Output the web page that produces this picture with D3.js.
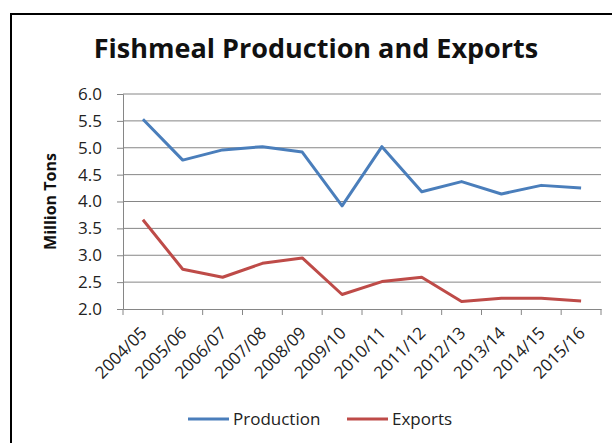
<!DOCTYPE html>
<html>
<head>
<meta charset="utf-8">
<script src="https://cdn.jsdelivr.net/npm/d3@7"></script>
<style>
  body { margin: 0; background: #fff; }
  svg { display: block; font-family: "Open Sans", sans-serif; }
</style>
</head>
<body>
<svg id="chart"></svg>
<script>
const seasons = ["2004/05", "2005/06", "2006/07", "2007/08", "2008/09", "2009/10",
  "2010/11", "2011/12", "2012/13", "2013/14", "2014/15", "2015/16"];
const production = [5.53, 4.77, 4.96, 5.02, 4.92, 3.92, 5.02, 4.18, 4.37, 4.14, 4.30, 4.25];
const exportsVals = [3.66, 2.74, 2.59, 2.85, 2.95, 2.27, 2.51, 2.59, 2.14, 2.20, 2.20, 2.15];
const yTicks = [2.0, 2.5, 3.0, 3.5, 4.0, 4.5, 5.0, 5.5, 6.0];

const series = [
  { name: "Production", values: production, color: "#4A7EBB" },
  { name: "Exports", values: exportsVals, color: "#BE4B48" }
];

const width = 612, height = 443;
const margin = { top: 94, right: 11, bottom: 134, left: 123 };

const svg = d3.select("#chart")
  .attr("width", width)
  .attr("height", height);

// frame (left + top only visible)
svg.append("path")
  .attr("d", `M11,${height} V14 H${width}`)
  .attr("fill", "none")
  .attr("stroke", "#000")
  .attr("stroke-width", 2);

const x = d3.scaleBand()
  .domain(seasons)
  .range([margin.left, width - margin.right]);

const y = d3.scaleLinear()
  .domain([2, 6])
  .range([height - margin.bottom, margin.top]);

// gridlines
svg.append("g")
  .selectAll("line")
  .data(yTicks.slice(1))
  .enter()
  .append("line")
  .attr("x1", margin.left)
  .attr("x2", width - margin.right)
  .attr("y1", d => y(d))
  .attr("y2", d => y(d))
  .attr("stroke", "#868686")
  .attr("stroke-width", 1);

// y axis
const yAxis = svg.append("g")
  .attr("transform", `translate(${margin.left},0)`)
  .call(d3.axisLeft(y).tickValues(yTicks).tickFormat(d3.format(".1f")).tickSize(6).tickPadding(15));
yAxis.select(".domain").attr("stroke", "#868686");
yAxis.selectAll(".tick line").attr("stroke", "#868686");
yAxis.selectAll("text")
  .style("font-size", "17px")
  .style("font-family", "'Open Sans', sans-serif")
  .attr("fill", "#222");

// x axis
const xAxis = svg.append("g")
  .attr("transform", `translate(0,${height - margin.bottom})`)
  .call(d3.axisBottom(x).tickSize(0).tickFormat(""));
xAxis.select(".domain").attr("stroke", "#868686");

svg.append("g")
  .selectAll("line")
  .data(seasons.concat(["end"]))
  .enter()
  .append("line")
  .attr("x1", (d, i) => margin.left + i * x.step())
  .attr("x2", (d, i) => margin.left + i * x.step())
  .attr("y1", height - margin.bottom)
  .attr("y2", height - margin.bottom + 6)
  .attr("stroke", "#868686");

svg.append("g")
  .selectAll("text")
  .data(seasons)
  .enter()
  .append("text")
  .attr("transform", d => `translate(${x(d) + x.bandwidth() / 2 + 5},${height - margin.bottom + 25}) rotate(-45)`)
  .attr("text-anchor", "end")
  .style("font-size", "17px")
  .attr("fill", "#222")
  .text(d => d);

// y title
svg.append("text")
  .attr("transform", `translate(56,${(y(2) + y(6)) / 2}) rotate(-90)`)
  .attr("text-anchor", "middle")
  .style("font-size", "16px")
  .attr("font-weight", "bold")
  .attr("fill", "#111")
  .text("Million Tons");

// title
svg.append("text")
  .attr("x", 316)
  .attr("y", 58)
  .attr("text-anchor", "middle")
  .style("font-size", "27px")
  .attr("font-weight", "bold")
  .attr("fill", "#111")
  .text("Fishmeal Production and Exports");

// lines
const line = d3.line()
  .x((d, i) => x(seasons[i]) + x.bandwidth() / 2)
  .y(d => y(d));

svg.append("g")
  .selectAll("path")
  .data(series)
  .enter()
  .append("path")
  .attr("d", d => line(d.values))
  .attr("fill", "none")
  .attr("stroke", d => d.color)
  .attr("stroke-width", 3)
  .attr("stroke-linejoin", "round");

// legend
const legendX = [188, 347];
const legend = svg.append("g")
  .selectAll("g")
  .data(series)
  .enter()
  .append("g")
  .attr("transform", (d, i) => `translate(${legendX[i]},419)`);

legend.append("line")
  .attr("x1", 0).attr("x2", 41)
  .attr("stroke", d => d.color)
  .attr("stroke-width", 3);

legend.append("text")
  .attr("x", 45)
  .attr("dy", "0.35em")
  .style("font-size", "17px")
  .attr("fill", "#222")
  .text(d => d.name);
</script>
</body>
</html>
